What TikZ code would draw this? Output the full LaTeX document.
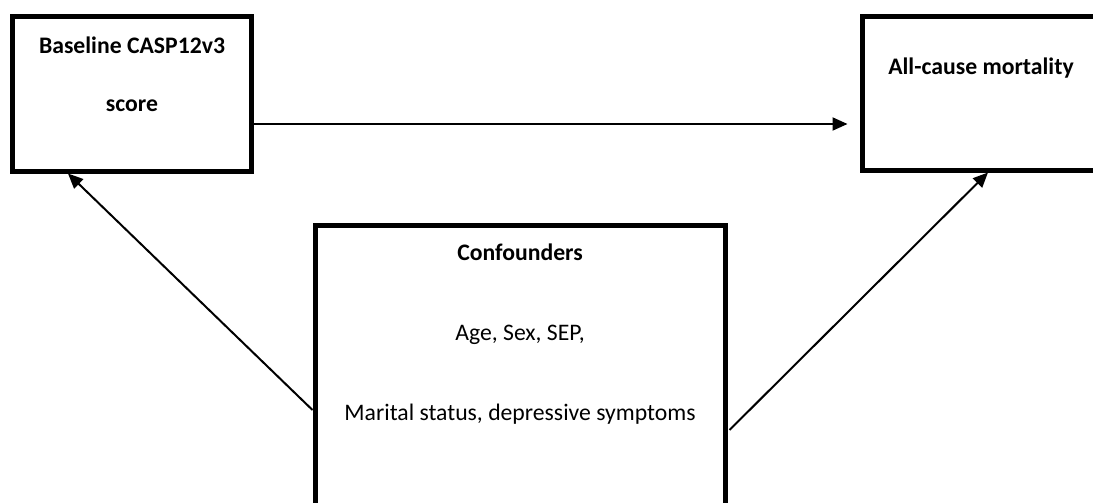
\documentclass[tikz,border=0pt]{standalone}
\usepackage{fontspec}
\setmainfont{Carlito}
\usetikzlibrary{arrows.meta,calc}
\tikzset{
  box/.style={draw=black, line width=5pt, fill=white, inner sep=0pt},
  lbl/.style={anchor=base, inner sep=0pt, font=\fontsize{23.7}{28}\selectfont},
  blbl/.style={lbl, font=\fontsize{23.7}{28}\selectfont\bfseries},
  arr/.style={line width=2pt, -{Triangle[length=15pt,width=13pt]}},
}
\begin{document}
\begin{tikzpicture}[x=1pt,y=-1pt]
  \useasboundingbox (0,0) rectangle (1093,503);
  \clip (0,0) rectangle (1093,503);

  % boxes
  \node[box, minimum width=239pt, minimum height=154pt] (expo) at (132,94) {};
  \node[box, minimum width=248pt, minimum height=153.5pt] (outc) at (986,93.25) {};
  \node[box, minimum width=410pt, minimum height=305pt] (conf) at (520,377.5) {};

  % labels
  \node[blbl] (expo1) at (132,53.5) {Baseline CASP12v3};
  \node[blbl] (expo2) at (132,111.5) {score};
  \node[blbl] (outc1) at (981,75) {All-cause mortality};
  \node[blbl] (conf1) at (520,260) {Confounders};
  \node[lbl] (conf2) at (520,340) {Age, Sex, SEP,};
  \node[lbl] (conf3) at (520,420) {Marital status, depressive symptoms};

  % connector end points
  \coordinate (h0) at (expo.east |- 0,124);
  \coordinate (h1) at ($(outc.west |- 0,124)+(-12,0)$);
  \coordinate (l0) at (conf.west |- 0,410);
  \coordinate (l1) at (expo.south -| 68,0);
  \coordinate (r0) at ($(conf.east |- 0,430)+(2,0)$);
  \coordinate (r1) at (outc.south -| 988,0);

  % arrows
  \draw[arr] (h0) -- (h1);
  \draw[arr] (l0) -- (l1);
  \draw[arr] (r0) -- (r1);
\end{tikzpicture}
\end{document}
